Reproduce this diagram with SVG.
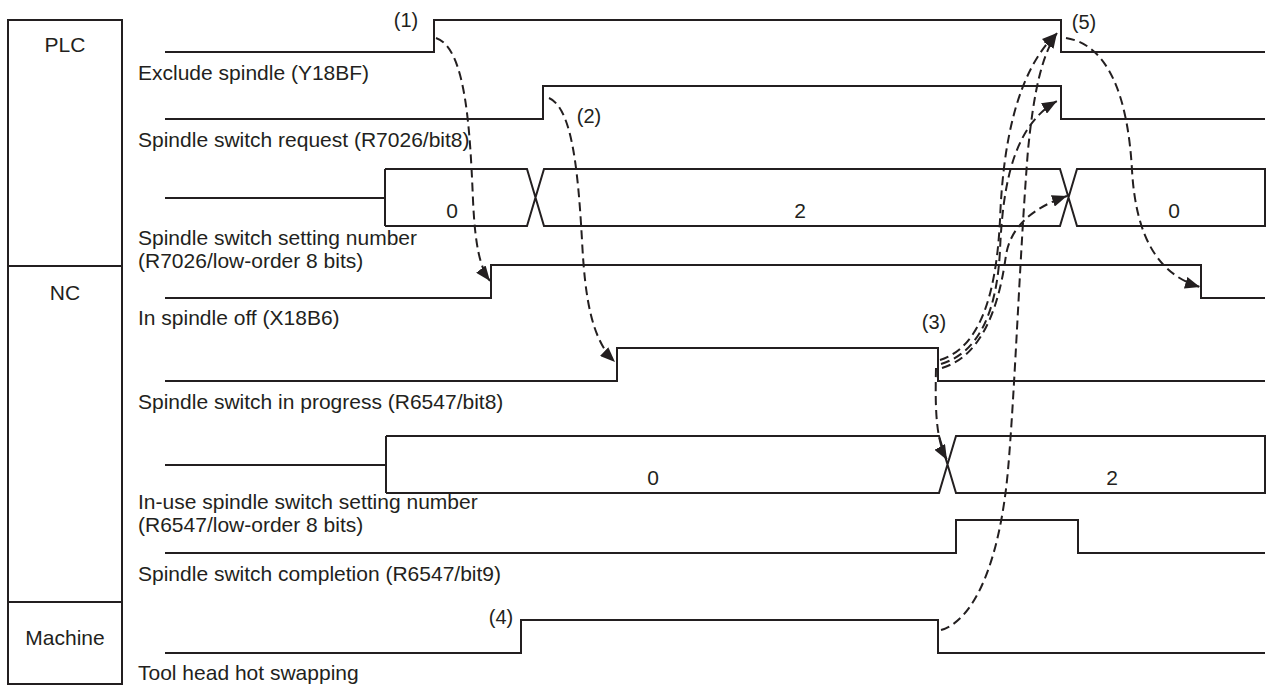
<svg xmlns="http://www.w3.org/2000/svg" width="1268" height="686" viewBox="0 0 1268 686">
<style>
.w{fill:none;stroke:#231f20;stroke-width:2;stroke-linejoin:miter}
.t{font-family:"Liberation Sans",Arial,sans-serif;font-size:21px;fill:#231f20}
.n{font-family:"Liberation Sans",Arial,sans-serif;font-size:20px;fill:#231f20;text-anchor:middle}
.c{text-anchor:middle}
.d{fill:none;stroke:#231f20;stroke-width:2;stroke-dasharray:9,5;marker-end:url(#ah)}
</style>
<defs>
<marker id="ah" markerUnits="userSpaceOnUse" markerWidth="16" markerHeight="12" refX="15" refY="6" orient="auto">
<path d="M0,0 L15,6 L0,12 Z" fill="#231f20"/>
</marker>
</defs>
<rect width="1268" height="686" fill="#fff"/>
<g id="lanes">
<rect class="w" x="8" y="20" width="114" height="664"/>
<path class="w" d="M8,266 H122 M8,602 H122"/>
<text class="t c" x="65" y="52">PLC</text>
<text class="t c" x="65" y="300">NC</text>
<text class="t c" x="65" y="645">Machine</text>
</g>
<g id="sig-exclude">
<path class="w" d="M165,52 H434 V20 H1061 V52 H1265"/>
<text class="t" x="138" y="80">Exclude spindle (Y18BF)</text>
</g>
<g id="sig-request">
<path class="w" d="M165,119 H543 V86 H1061 V119 H1265"/>
<text class="t" x="138" y="147">Spindle switch request (R7026/bit8)</text>
</g>
<g id="sig-setting">
<path class="w" d="M165,198 H385 M385,169 V226 M385,169 H527 L544,226 H1060 L1077,169 H1265 V226 H1077 L1060,169 H544 L527,226 H385"/>
<text class="t c" x="452" y="218">0</text>
<text class="t c" x="800" y="218">2</text>
<text class="t c" x="1174" y="218">0</text>
<text class="t" x="138" y="245">Spindle switch setting number</text>
<text class="t" x="138" y="268">(R7026/low-order 8 bits)</text>
</g>
<g id="sig-spindleoff">
<path class="w" d="M165,298 H491 V265 H1201 V298 H1265"/>
<text class="t" x="138" y="325">In spindle off (X18B6)</text>
</g>
<g id="sig-inprogress">
<path class="w" d="M165,381 H617 V348 H938 V381 H1265"/>
<text class="t" x="138" y="409">Spindle switch in progress (R6547/bit8)</text>
</g>
<g id="sig-inuse">
<path class="w" d="M165,465 H386 M386,436 V493 M386,436 H939 L956,493 H1265 V436 H956 L939,493 H386"/>
<text class="t c" x="653" y="485">0</text>
<text class="t c" x="1112" y="485">2</text>
<text class="t" x="138" y="509">In-use spindle switch setting number</text>
<text class="t" x="138" y="532">(R6547/low-order 8 bits)</text>
</g>
<g id="sig-completion">
<path class="w" d="M165,553 H956 V520 H1078 V553 H1265"/>
<text class="t" x="138" y="581">Spindle switch completion (R6547/bit9)</text>
</g>
<g id="sig-toolhead">
<path class="w" d="M165,653 H521 V620 H938 V653 H1265"/>
<text class="t" x="138" y="680">Tool head hot swapping</text>
</g>
<g id="steps">
<text class="n" x="406" y="27">(1)</text>
<text class="n" x="589" y="123">(2)</text>
<text class="n" x="934" y="329">(3)</text>
<text class="n" x="501" y="624">(4)</text>
<text class="n" x="1084" y="29">(5)</text>
</g>
<g id="connectors">
<path class="d" d="M436,38 C466,48 470,130 473,200 C475,245 480,268 490,281"/>
<path class="d" d="M549,98 C572,108 578,170 582,240 C585,300 592,340 615,362"/>
<path class="d" d="M940,360 C978,348 996,300 1000,220 C1003,140 1018,70 1057,33"/>
<path class="d" d="M941,364 C980,352 997,310 1000,250 C1003,180 1015,125 1057,101"/>
<path class="d" d="M942,368 C985,355 1000,300 1006,255 C1011,225 1035,207 1067,196"/>
<path class="d" d="M936,368 C935,410 936,440 947,460"/>
<path class="d" d="M941,630 C975,620 1000,560 1008,470 C1015,390 1020,250 1028,150 C1034,90 1042,55 1057,33"/>
<path class="d" d="M1066,38 C1110,45 1128,100 1132,170 C1136,240 1160,275 1200,287"/>
</g>
</svg>
